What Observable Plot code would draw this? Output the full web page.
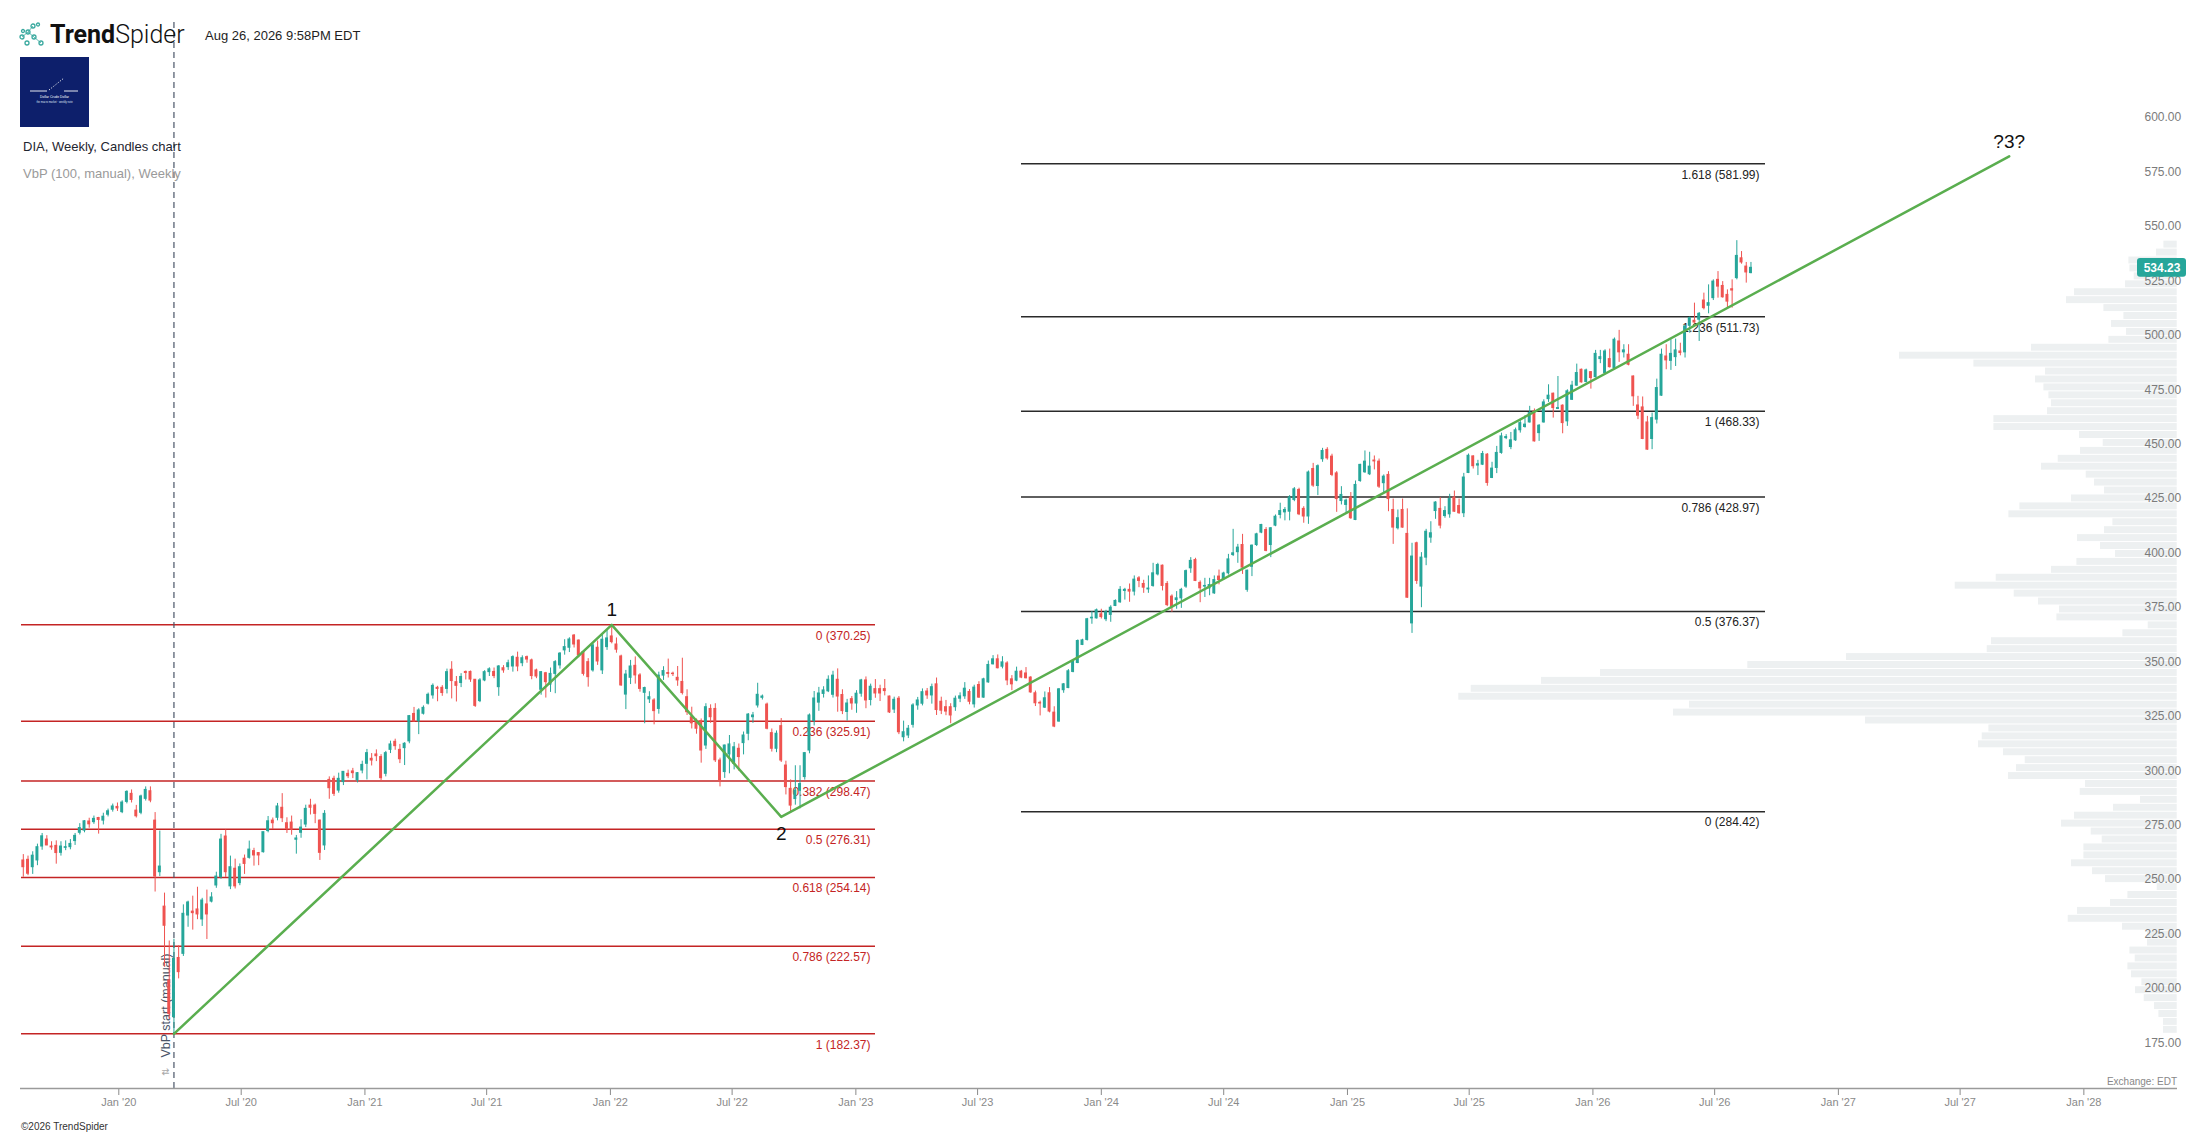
<!DOCTYPE html>
<html><head><meta charset="utf-8">
<script src="https://cdn.jsdelivr.net/npm/d3@7"></script>
<script src="https://cdn.jsdelivr.net/npm/@observablehq/plot@0.6"></script>
<style>
html,body{margin:0;padding:0;background:#fff;}
#wrap{position:relative;width:2207px;height:1134px;overflow:hidden;font-family:"Liberation Sans",Arial,sans-serif;}
#wrap > svg{position:absolute;left:0;top:0;}
.abs{position:absolute;white-space:nowrap;line-height:1;}
</style></head><body>
<div id="wrap"></div>
<script>
// ---------- DATA ----------
const firstWeek = "2019-08-12"; // weekly candles, Mondays
const opens = [
262.0,262.3,258.9,262.0,268.4,271.6,268.4,268.7,265.5,267.8,
268.1,270.9,274.7,275.7,279.9,279.6,281.5,280.3,283.0,285.3,
286.6,284.2,288.9,292.6,284.9,283.9,290.3,293.8,280.3,256.6,
240.8,206.9,190.0,217.2,219.1,236.7,238.5,239.5,234.9,241.8,
243.1,250.5,254.3,273.0,250.1,258.2,251.6,262.8,263.2,266.3,
265.4,265.8,275.5,280.3,281.6,286.2,279.1,279.4,271.5,274.7,
278.5,287.2,287.2,280.3,268.9,299.0,299.5,294.1,298.0,301.8,
302.9,298.8,303.3,306.4,308.7,310.7,309.5,301.8,312.8,316.5,
312.8,313.6,316.7,329.3,325.9,329.4,334.0,337.8,341.3,341.3,
340.8,349.6,343.9,343.5,348.6,348.6,345.0,335.2,344.7,348.5,
348.6,341.6,350.3,350.8,351.1,355.1,352.6,355.4,353.9,349.3,
340.4,348.0,342.8,347.7,351.6,358.5,359.7,365.3,363.0,357.7,
353.1,349.3,359.7,349.3,360.0,364.9,361.2,355.7,338.2,345.9,
351.4,347.0,339.0,336.0,335.5,331.6,346.9,348.1,347.8,345.9,
344.0,337.0,327.8,326.3,326.0,314.8,331.6,331.6,307.9,302.6,
310.7,306.4,313.3,315.9,320.2,327.8,333.2,336.7,333.6,320.5,
313.3,323.7,305.6,294.9,290.2,294.0,300.3,312.5,326.0,334.5,
338.5,339.7,338.1,345.0,338.0,330.2,336.1,334.1,338.6,344.7,
335.7,340.7,340.7,340.7,337.3,331.3,336.3,318.6,319.4,324.3,
333.2,334.0,339.6,337.8,342.9,334.9,332.4,332.4,332.4,336.3,
337.4,339.4,333.7,342.6,336.8,343.8,352.1,354.4,351.0,352.5,
345.2,344.6,348.7,347.9,346.0,338.8,334.4,332.2,338.8,329.9,
325.8,340.2,341.2,348.6,352.7,361.0,363.3,373.2,373.2,375.1,
372.8,374.8,378.9,380.6,385.8,386.3,385.5,391.6,389.0,386.5,
388.1,393.4,397.4,389.0,383.2,381.6,382.4,387.8,396.2,400.0,
389.5,387.8,387.0,384.7,392.4,391.3,393.9,402.3,403.6,406.9,
386.3,396.9,406.9,412.6,413.8,406.9,415.8,420.7,421.9,422.2,
427.6,432.2,423.5,420.0,441.8,434.0,446.3,450.6,447.5,439.8,
427.1,425.3,428.7,418.4,436.3,440.3,439.4,445.7,445.2,435.3,
439.1,423.0,414.6,423.0,412.0,370.9,407.7,387.8,401.1,410.3,
422.5,423.5,420.2,421.0,428.7,424.8,421.5,440.0,447.6,443.4,
443.8,448.4,437.7,442.3,449.2,456.0,451.9,455.0,459.6,461.1,
463.2,468.3,458.3,463.2,473.9,476.4,469.4,470.9,463.7,473.6,
480.1,487.4,481.8,486.3,484.0,492.3,485.9,492.3,488.2,500.4,
495.4,494.3,484.3,471.0,470.1,463.2,455.6,464.5,475.5,493.5,
491.5,493.2,495.8,495.4,507.6,509.9,510.4,519.2,516.8,520.3,
528.7,525.9,521.8,524.4,529.5,538.6,534.8,531.8];
const highs = [
264.7,264.0,266.0,269.5,274.4,273.4,270.6,271.0,270.6,271.0,
271.6,274.4,278.9,280.3,281.4,282.4,281.8,283.7,285.6,287.9,
288.4,289.4,294.0,294.4,287.3,292.0,295.8,295.8,284.0,275.5,
247.0,225.0,225.8,222.8,241.6,243.3,245.6,249.7,244.6,248.4,
247.2,256.6,274.0,276.0,264.0,262.6,260.4,264.5,270.9,267.6,
265.6,275.0,282.2,281.5,288.2,292.7,281.6,282.4,273.5,280.7,
287.4,290.1,287.9,280.6,284.9,300.4,300.7,302.1,302.8,303.5,
304.3,302.4,307.6,313.0,311.1,312.8,310.6,312.1,316.8,317.7,
315.3,316.1,328.6,332.3,331.7,333.0,338.9,343.1,342.0,342.3,
349.9,353.3,346.5,347.8,349.0,349.0,345.1,345.5,349.2,350.5,
350.4,351.5,351.5,354.0,356.0,357.7,356.0,355.9,354.5,349.9,
348.8,348.4,350.4,353.8,357.5,363.4,364.3,365.8,363.3,358.2,
354.7,361.5,362.8,365.8,368.0,370.25,364.2,356.3,349.3,353.9,
355.5,347.8,341.6,339.5,336.3,348.5,351.0,354.5,348.5,351.1,
354.9,340.4,332.4,327.0,327.0,334.0,333.5,334.0,309.0,315.0,
319.4,316.2,315.5,321.0,329.5,330.0,343.4,338.0,334.3,322.4,
321.5,327.2,307.6,299.0,305.5,305.5,311.6,329.3,339.6,341.5,
341.8,346.8,348.9,350.0,340.4,336.0,337.3,340.0,345.2,346.3,
343.0,345.1,342.5,345.1,337.5,337.0,337.3,326.0,324.0,334.0,
336.9,340.8,341.0,343.0,345.8,337.0,335.5,334.0,337.5,339.0,
343.7,340.5,342.5,344.1,345.7,353.6,356.1,356.4,355.6,353.3,
346.9,350.8,349.3,350.6,346.4,339.8,335.2,339.4,341.4,332.6,
341.0,343.3,349.7,353.7,363.3,363.6,373.2,376.3,377.5,377.4,
376.9,379.0,381.7,387.8,387.0,389.0,392.7,392.4,390.7,392.7,
398.5,398.5,397.7,390.1,384.0,385.5,387.0,395.4,401.1,400.8,
390.4,391.6,391.6,392.7,395.4,394.4,402.6,414.1,407.2,411.8,
395.4,406.9,412.3,416.4,414.9,414.9,420.7,426.1,424.1,429.6,
433.3,433.0,424.5,440.9,444.4,443.7,451.3,451.6,448.6,440.6,
433.7,428.0,431.0,436.3,444.0,450.1,449.5,447.8,446.4,439.1,
440.6,428.0,423.0,428.0,423.5,407.7,408.2,403.4,414.1,417.6,
426.8,428.7,424.5,430.2,431.7,428.0,439.8,448.7,447.9,445.8,
449.9,448.9,444.9,452.2,458.3,457.6,458.6,460.6,464.7,466.3,
470.6,469.4,462.2,473.6,480.5,476.7,484.3,471.3,478.2,482.1,
490.0,487.7,487.7,486.6,496.3,496.3,496.6,496.9,502.0,505.5,
498.9,498.9,484.6,475.2,474.9,466.0,467.5,483.1,496.9,498.9,
501.2,501.5,499.6,507.6,511.6,518.0,513.7,522.6,526.4,528.7,
532.5,527.9,524.1,528.7,546.7,541.7,536.7,536.7];
const lows = [
254.3,255.0,255.6,259.6,266.7,268.8,266.7,260.3,264.0,266.5,
266.9,268.9,273.7,274.7,276.8,278.6,274.1,278.3,282.0,284.2,
284.5,283.5,288.0,288.4,281.5,283.0,289.3,288.5,247.5,254.6,
213.0,189.0,182.37,207.6,217.9,231.3,230.0,234.8,231.7,225.7,
242.5,249.2,253.4,254.2,248.6,248.9,250.4,255.6,262.6,259.4,
259.6,265.4,274.7,276.2,280.2,279.4,274.4,273.6,264.9,272.2,
277.1,282.9,278.9,262.0,266.6,290.1,291.4,292.9,296.4,299.6,
299.6,297.6,301.8,299.0,305.4,307.4,298.3,300.4,311.1,312.6,
306.5,305.6,315.6,325.5,319.8,328.8,333.4,336.1,334.9,337.4,
338.5,336.2,334.8,341.4,344.9,343.8,332.3,334.5,344.1,346.5,
345.5,337.4,348.0,349.3,348.5,348.7,351.0,352.6,345.0,345.5,
337.9,336.6,339.2,338.6,349.9,356.3,357.5,359.6,355.1,346.7,
341.6,348.5,351.6,347.4,358.5,361.5,357.2,342.0,331.3,342.8,
343.0,339.3,324.8,334.1,324.3,329.2,344.7,345.8,346.5,342.0,
338.0,328.6,322.4,320.0,306.7,313.0,325.0,307.0,295.8,299.7,
301.8,303.6,303.0,310.5,317.0,325.0,332.0,335.7,322.0,311.8,
311.5,307.0,292.1,284.4,287.4,285.7,298.9,311.0,323.8,330.5,
336.6,339.1,336.6,330.1,329.0,326.0,331.0,329.6,337.0,331.7,
333.0,336.5,335.0,337.6,329.5,329.5,319.8,316.5,318.0,322.8,
331.0,333.0,336.0,333.8,328.6,329.0,328.5,324.8,330.5,334.5,
336.0,333.5,332.0,336.5,336.5,343.4,351.8,350.0,350.0,342.3,
340.0,344.1,345.5,345.4,338.8,332.7,328.4,331.8,329.8,323.0,
325.5,338.8,340.9,348.2,352.4,360.7,362.8,370.5,372.9,372.9,
371.7,371.4,378.6,380.1,381.6,380.6,383.5,387.3,384.7,384.7,
387.5,392.7,385.8,378.6,376.0,377.4,377.8,387.0,393.9,390.1,
380.4,382.8,383.6,384.2,388.6,390.8,393.1,401.6,398.5,393.4,
385.2,392.4,406.2,412.1,403.8,401.1,415.3,418.9,418.0,418.0,
426.8,420.4,416.9,416.4,433.4,429.6,444.9,445.9,438.3,421.9,
425.3,421.5,418.7,418.1,435.7,439.8,438.8,441.4,432.9,431.0,
422.2,407.2,413.8,414.6,382.4,366.3,388.8,378.1,397.4,407.7,
418.7,414.3,419.2,419.2,421.9,421.0,419.5,439.7,441.8,438.8,
443.4,433.9,437.4,439.7,448.6,455.3,450.7,454.5,458.3,460.6,
462.9,454.2,454.5,462.9,472.4,465.2,469.1,458.0,461.4,473.3,
479.8,481.3,481.3,478.5,483.6,490.2,485.1,488.2,487.4,490.8,
492.8,489.2,470.6,464.5,455.3,450.4,450.7,462.5,475.2,487.4,
487.1,488.9,493.8,492.8,504.2,508.8,500.4,514.9,513.1,519.2,
520.3,520.3,515.2,515.7,528.7,535.9,527.2,531.5];
const closes = [
258.9,255.9,264.2,268.1,273.1,268.9,268.0,265.4,268.4,268.1,
269.6,273.3,276.9,280.0,278.6,281.1,280.6,282.1,284.6,286.8,
285.9,288.6,293.5,289.8,282.3,291.4,294.4,289.5,254.6,259.2,
232.0,191.5,216.8,210.7,237.5,242.7,237.8,237.2,243.6,237.2,
245.0,254.6,271.6,256.6,258.9,250.1,258.9,260.4,267.0,264.3,
264.3,275.0,280.0,279.1,286.8,281.4,276.5,276.1,272.1,277.1,
285.7,286.2,283.4,265.5,283.4,295.2,292.6,299.5,302.7,300.7,
302.1,302.1,305.9,311.3,307.9,309.9,299.8,311.3,315.3,314.5,
308.5,315.6,328.3,325.9,330.9,332.1,338.1,342.2,340.8,338.9,
348.5,344.4,342.2,346.3,348.1,345.1,333.0,344.7,348.5,349.8,
346.7,351.1,349.3,352.6,355.4,351.1,354.9,354.3,346.7,346.5,
348.5,343.9,347.7,353.1,357.0,360.0,363.5,361.2,356.2,347.7,
346.2,360.8,353.4,363.4,364.0,362.3,358.8,342.4,347.4,351.1,
347.0,340.8,341.2,337.0,330.6,346.9,349.0,347.7,347.6,344.7,
338.9,330.1,325.0,322.5,312.5,332.4,327.8,308.0,298.7,314.8,
315.3,314.0,309.5,319.4,329.0,328.6,338.1,337.3,322.5,313.3,
320.2,307.9,295.7,287.2,294.1,297.1,311.3,328.6,336.4,338.7,
340.1,345.0,346.9,337.3,330.6,334.1,334.1,338.6,344.7,335.5,
341.8,338.7,338.7,339.8,330.0,335.8,320.9,320.9,322.5,333.2,
335.5,339.3,337.8,341.6,331.1,330.8,330.4,328.6,336.3,337.4,
340.9,334.9,341.4,336.8,345.2,351.8,354.4,350.3,353.0,344.7,
342.9,348.7,346.0,345.7,339.2,334.2,334.1,336.5,330.4,323.5,
340.6,342.9,348.9,353.3,362.8,363.1,372.8,373.5,376.9,373.8,
376.0,378.1,381.2,386.3,386.3,385.5,391.0,390.4,387.3,386.9,
393.9,397.7,388.1,379.3,378.6,382.4,386.3,394.9,399.6,390.4,
387.0,388.1,388.5,390.8,390.8,393.8,400.3,403.1,405.7,396.5,
395.1,406.6,411.8,416.1,404.2,414.6,419.9,422.5,423.0,428.7,
432.5,421.0,420.0,440.2,434.2,443.1,450.1,446.7,439.1,428.0,
429.9,427.3,419.2,434.5,443.7,445.2,442.9,445.3,433.7,438.3,
428.0,414.9,419.2,414.9,382.7,401.6,390.4,401.1,413.0,412.3,
426.4,415.8,422.5,428.0,422.2,421.5,437.9,447.9,443.1,444.0,
448.7,435.4,442.0,449.2,456.8,456.5,455.0,459.6,462.9,462.2,
467.5,454.5,461.7,472.4,475.5,469.8,469.8,462.9,477.5,480.1,
485.9,481.6,487.1,483.6,494.7,493.2,495.8,488.6,501.2,495.4,
496.3,489.7,475.2,466.3,455.6,450.7,465.2,479.0,494.3,491.7,
494.7,496.3,495.1,507.3,511.1,509.1,513.1,515.7,518.0,527.9,
525.6,520.7,518.7,523.8,539.7,536.7,532.1,534.23];

// Fibonacci retracement (left, red) and extension (right, black)
const retraceRatios = ["0","0.236","0.382","0.5","0.618","0.786","1"];
const retraceLevels = [370.25,325.91,298.47,276.31,254.14,222.57,182.37];
const extRatios = ["0","0.5","0.786","1","1.236","1.618"];
const extLevels = [284.42,376.37,428.97,468.33,511.73,581.99];

// Wave line (green) and its labels
const waveDates = ["2020-03-23","2022-01-03","2022-09-12","2027-09-12"];
const wavePrices = [182.37,370.25,282.0,585.4];
const waveLabels = ["","1","2","?3?"];

// Volume by price (100 rows, manual start 2020-03-23), relative volume
const vbpStart = "2020-03-23";
const vbpRange = [182.37, 546.7];
const vbpVolumes = [
13.7,13.7,18.3,22.7,33,41.7,35.3,45.7,49.3,42,
47.3,29.7,29.7,54.7,109,99.7,66.7,49.3,20,71.7,
84.7,105.7,93.3,93.3,75,86,115.7,102.7,63.7,36.7,
97,91.7,168.7,160.7,152,173.7,198.7,195,188.3,311.7,
503.7,487.7,718.4,706,635.7,576.7,429.4,330.7,190,185.7,
54.3,29,120.3,117.7,138.7,163,222,181,125.7,100.3,
61.7,76.7,99.7,72.7,64.3,168.3,157.3,105.7,72.7,82.7,
91,135.7,119,96.7,74,97.7,183.3,183.3,129.7,125.7,
128.3,133.3,141.7,131.7,203.3,277.7,145.7,68.3,50.7,65.7,
53.3,73.3,110.7,102.7,51.7,43,47.3,48.3,20.7,13.3];

const lastPrice = 534.23;
const priceTicks = [175,200,225,250,275,300,325,350,375,400,425,450,475,500,525,550,575,600];
const xTickDates = ["2020-01-01","2020-07-01","2021-01-01","2021-07-01","2022-01-01","2022-07-01","2023-01-01","2023-07-01","2024-01-01","2024-07-01","2025-01-01","2025-07-01","2026-01-01","2026-07-01","2027-01-01","2027-07-01","2028-01-01"];
const xTickLabels = ["Jan '20","Jul '20","Jan '21","Jul '21","Jan '22","Jul '22","Jan '23","Jul '23","Jan '24","Jul '24","Jan '25","Jul '25","Jan '26","Jul '26","Jan '27","Jul '27","Jan '28"];

// ---------- LAYOUT ----------
const W = 2207, H = 1134, AXIS_Y = 1088;
const DAY = 864e5, T0 = Date.UTC(2020,0,1), X0 = 118.3, PXD = 0.6725;
const pxToDate = px => new Date(T0 + (px - X0) / PXD * DAY);
const Y_REF = 624.3, P_REF = 370.25, PXU = 2.177;
const pxToPrice = py => P_REF - (py - Y_REF) / PXU;
const UP = "#26a69a", DOWN = "#ef5350", FIB_RED = "#c42424", FIB_DARK = "#2a2a2a", GREEN = "#5aae4f";
const parse = s => new Date(s + "T00:00:00Z");

const n = Math.min(opens.length, highs.length, lows.length, closes.length);
const t1 = parse(firstWeek).getTime();
const candles = d3.range(n).map(i => ({
  date: new Date(t1 + i * 7 * DAY), open: opens[i], high: highs[i], low: lows[i], close: closes[i]
}));
const up = candles.filter(d => d.close >= d.open), down = candles.filter(d => d.close < d.open);
const wave = waveDates.map((d, i) => ({date: parse(d), price: wavePrices[i], label: waveLabels[i]}));
const retrace = retraceLevels.map((v, i) => ({v, label: `${retraceRatios[i]} (${v.toFixed(2)})`}));
const ext = extLevels.map((v, i) => ({v, label: `${extRatios[i]} (${v.toFixed(2)})`}));
const step = (vbpRange[1] - vbpRange[0]) / vbpVolumes.length;
const vbp = vbpVolumes.map((vol, i) => ({vol, lo: vbpRange[0] + i * step, hi: vbpRange[0] + (i + 1) * step}));
const tickLabel = new Map(xTickDates.map((d, i) => [parse(d).getTime(), xTickLabels[i]]));

const yScale = {domain: [pxToPrice(AXIS_Y), pxToPrice(0)], range: [AXIS_Y, 0], axis: null};
const common = {width: W, height: H, marginTop: 0, marginLeft: 0, marginRight: 0, marginBottom: H - AXIS_Y,
  style: {background: "transparent", fontFamily: "Liberation Sans, Arial, sans-serif", overflow: "visible"}};

// Volume-by-price layer (behind)
const vbpMax = d3.max(vbpVolumes);
const vbpPlot = Plot.plot({
  ...common,
  x: {type: "linear", domain: [0, vbpMax], range: [2176.7, 2176.7 - vbpMax], axis: null},
  y: yScale,
  marks: [
    Plot.rectX(vbp, {x1: () => 0, x2: "vol", y1: "lo", y2: "hi", fill: "#edf0f1", insetTop: 0.5, insetBottom: 0.5})
  ]
});

const LEFT_A = pxToDate(21), LEFT_B = pxToDate(875), RIGHT_A = pxToDate(1021), RIGHT_B = pxToDate(1765);
const LABEL_X = pxToDate(2144), TAG_A = pxToDate(2137), TAG_B = pxToDate(2186), TAG_C = pxToDate(2161.5);
const mainPlot = Plot.plot({
  ...common,
  x: {type: "utc", domain: [pxToDate(0), pxToDate(W)], range: [0, W], ticks: xTickDates.map(parse),
      tickFormat: d => tickLabel.get(d.getTime()) ?? "", tickSize: 7, tickPadding: 3, label: null},
  y: yScale,
  marks: [
    Plot.ruleY(retrace, {y: "v", x1: () => LEFT_A, x2: () => LEFT_B, stroke: FIB_RED, strokeWidth: 1.5}),
    Plot.text(retrace, {y: "v", x: () => LEFT_B, text: "label", textAnchor: "end", dx: -5, dy: 11, fill: FIB_RED, fontSize: 12}),
    Plot.ruleY(ext, {y: "v", x1: () => RIGHT_A, x2: () => RIGHT_B, stroke: FIB_DARK, strokeWidth: 1.5}),
    Plot.text(ext, {y: "v", x: () => RIGHT_B, text: "label", textAnchor: "end", dx: -6, dy: 11, fill: "#222", fontSize: 12}),
    // VbP start marker
    Plot.ruleX([parse(vbpStart)], {x: d => d, y1: () => pxToPrice(22), y2: () => pxToPrice(AXIS_Y), stroke: "#4a5568", strokeWidth: 1.2, strokeDasharray: "6,4"}),
    Plot.text([parse(vbpStart)], {x: d => d, y: () => pxToPrice(1057), text: () => "VbP start (manual)", rotate: -90, textAnchor: "start", dx: -8, fill: "#4a5568", fontSize: 12.5}),
    Plot.text([parse(vbpStart)], {x: d => d, y: () => pxToPrice(1071), text: () => "⇅", rotate: -90, dx: -8, fill: "#aaa", fontSize: 10}),
    // candles
    Plot.ruleX(up, {x: "date", y1: "low", y2: "high", stroke: UP, strokeWidth: 1}),
    Plot.ruleX(down, {x: "date", y1: "low", y2: "high", stroke: DOWN, strokeWidth: 1}),
    Plot.rect(up, {x1: d => new Date(+d.date - 2.2 * DAY), x2: d => new Date(+d.date + 2.2 * DAY), y1: "open", y2: "close", fill: UP, insetTop: -0.5, insetBottom: -0.5}),
    Plot.rect(down, {x1: d => new Date(+d.date - 2.2 * DAY), x2: d => new Date(+d.date + 2.2 * DAY), y1: "close", y2: "open", fill: DOWN, insetTop: -0.5, insetBottom: -0.5}),
    // wave
    Plot.line(wave, {x: "date", y: "price", stroke: GREEN, strokeWidth: 2.5}),
    Plot.text(wave.filter(d => d.label && d.label !== "2"), {x: "date", y: "price", text: "label", dy: -15, fill: "#111", fontSize: 19}),
    Plot.text(wave.filter(d => d.label === "2"), {x: "date", y: "price", text: "label", dy: 17, fill: "#111", fontSize: 19}),
    // axis line
    Plot.ruleY([pxToPrice(AXIS_Y)], {y: d => d, x1: () => pxToDate(20), x2: () => pxToDate(2177), stroke: "#9a9a9a", strokeWidth: 1.5}),
    // price labels
    Plot.text(priceTicks, {y: d => d, x: () => LABEL_X, text: d => d.toFixed(2), dy: -7, textAnchor: "start", fill: "#7b7b7b", fontSize: 12}),
    // last price tag
    Plot.rect([lastPrice], {x1: () => TAG_A, x2: () => TAG_B, y1: d => d - 4.3, y2: d => d + 4.3, fill: "#26a69a", rx: 3}),
    Plot.text([lastPrice], {y: d => d, x: () => TAG_C, text: d => d.toFixed(2), textAnchor: "middle", fill: "#fff", fontSize: 12, fontWeight: "bold"})
  ]
});
mainPlot.style.color = "#8a8a8a";
mainPlot.style.fontSize = "11px";

const wrap = document.getElementById("wrap");
wrap.appendChild(vbpPlot);
wrap.appendChild(mainPlot);

// ---------- HEADER / FOOTER TEXT ----------
function add(html, css) { const el = document.createElement("div"); el.className = "abs"; el.innerHTML = html; Object.assign(el.style, css); wrap.appendChild(el); return el; }
add(`<svg width="28" height="26" viewBox="0 0 28 26" fill="none" stroke="#3aa99f" stroke-width="1.3">
  <line x1="3" y1="15" x2="9" y2="10" stroke-width="0.8"/><line x1="9" y1="10" x2="14" y2="4" stroke-width="0.8"/>
  <line x1="9" y1="10" x2="15" y2="15" stroke-width="0.8"/><line x1="15" y1="15" x2="22" y2="21" stroke-width="0.8"/>
  <circle cx="3" cy="15" r="2"/><circle cx="9" cy="10" r="2"/><circle cx="14" cy="4" r="2"/><circle cx="19" cy="2.5" r="1.5"/>
  <circle cx="15" cy="15" r="2"/><circle cx="8" cy="21" r="2"/><circle cx="22" cy="21" r="2"/><circle cx="4" cy="9" r="1.5"/></svg>`,
  {left: "19px", top: "22px"});
add(`<span style="font-family:Roboto,'Liberation Sans',sans-serif;font-weight:700;color:#111">Trend</span><span style="font-family:Roboto,'Liberation Sans',sans-serif;font-weight:300;color:#111">Spider</span>`,
  {left: "50px", top: "22px", fontSize: "25px"});
add("Aug 26, 2026 9:58PM EDT", {left: "205px", top: "29px", fontSize: "13px", color: "#1e1e1e"});
add(`<svg width="69" height="70"><rect width="69" height="70" fill="#0d1f6b"/>
  <line x1="10" y1="34" x2="27" y2="34" stroke="#fff" stroke-width="0.9"/><line x1="44" y1="34" x2="58" y2="34" stroke="#fff" stroke-width="0.9"/>
  <line x1="29" y1="33" x2="44" y2="21" stroke="#fff" stroke-width="0.9" stroke-dasharray="1.2,1.6"/>
  <text x="34.5" y="41" fill="#fff" font-size="3.4" text-anchor="middle" font-family="Liberation Sans">Dollar Crude Dollar</text>
  <text x="34.5" y="45.5" fill="#dfe3f0" font-size="2.6" text-anchor="middle" font-family="Liberation Sans">the macro market · weekly note</text></svg>`,
  {left: "20px", top: "57px"});
add("DIA, Weekly, Candles chart", {left: "23px", top: "140px", fontSize: "13px", color: "#1f2630"});
add("VbP (100, manual), Weekly", {left: "23px", top: "167px", fontSize: "13px", color: "#9a9a9a"});
add("©2026 TrendSpider", {left: "21px", top: "1122px", fontSize: "10px", color: "#333"});
add("Exchange: EDT", {right: "30px", top: "1077px", fontSize: "10px", color: "#888"});
</script>
</body></html>
